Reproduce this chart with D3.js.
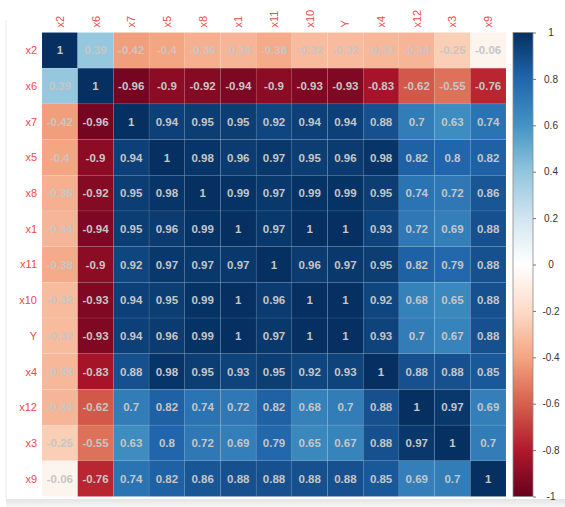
<!DOCTYPE html>
<html>
<head>
<meta charset="utf-8">
<script src="https://cdn.jsdelivr.net/npm/d3@7"></script>
<style>
  html, body { margin: 0; padding: 0; background: #fff; }
  svg { display: block; }
</style>
</head>
<body>
<svg id="chart" width="565" height="507"></svg>
<script>
// Variable order (rows top-to-bottom, columns left-to-right)
const variables = ["x2", "x6", "x7", "x5", "x8", "x1", "x11", "x10", "Y", "x4", "x12", "x3", "x9"];

// Correlation matrix rows, one array per variable
const rowX2  = [1, 0.39, -0.42, -0.4, -0.36, -0.34, -0.38, -0.32, -0.32, -0.33, -0.34, -0.25, -0.06];
const rowX6  = [0.39, 1, -0.96, -0.9, -0.92, -0.94, -0.9, -0.93, -0.93, -0.83, -0.62, -0.55, -0.76];
const rowX7  = [-0.42, -0.96, 1, 0.94, 0.95, 0.95, 0.92, 0.94, 0.94, 0.88, 0.7, 0.63, 0.74];
const rowX5  = [-0.4, -0.9, 0.94, 1, 0.98, 0.96, 0.97, 0.95, 0.96, 0.98, 0.82, 0.8, 0.82];
const rowX8  = [-0.36, -0.92, 0.95, 0.98, 1, 0.99, 0.97, 0.99, 0.99, 0.95, 0.74, 0.72, 0.86];
const rowX1  = [-0.34, -0.94, 0.95, 0.96, 0.99, 1, 0.97, 1, 1, 0.93, 0.72, 0.69, 0.88];
const rowX11 = [-0.38, -0.9, 0.92, 0.97, 0.97, 0.97, 1, 0.96, 0.97, 0.95, 0.82, 0.79, 0.88];
const rowX10 = [-0.32, -0.93, 0.94, 0.95, 0.99, 1, 0.96, 1, 1, 0.92, 0.68, 0.65, 0.88];
const rowY   = [-0.32, -0.93, 0.94, 0.96, 0.99, 1, 0.97, 1, 1, 0.93, 0.7, 0.67, 0.88];
const rowX4  = [-0.33, -0.83, 0.88, 0.98, 0.95, 0.93, 0.95, 0.92, 0.93, 1, 0.88, 0.88, 0.85];
const rowX12 = [-0.34, -0.62, 0.7, 0.82, 0.74, 0.72, 0.82, 0.68, 0.7, 0.88, 1, 0.97, 0.69];
const rowX3  = [-0.25, -0.55, 0.63, 0.8, 0.72, 0.69, 0.79, 0.65, 0.67, 0.88, 0.97, 1, 0.7];
const rowX9  = [-0.06, -0.76, 0.74, 0.82, 0.86, 0.88, 0.88, 0.88, 0.88, 0.85, 0.69, 0.7, 1];
const matrix = [rowX2, rowX6, rowX7, rowX5, rowX8, rowX1, rowX11, rowX10, rowY, rowX4, rowX12, rowX3, rowX9];

// Colour bar tick labels
const legendTicks = [1, 0.8, 0.6, 0.4, 0.2, 0, -0.2, -0.4, -0.6, -0.8, -1];

// Diverging red-blue palette
const paletteStops = ["#67001F", "#B2182B", "#D6604D", "#F4A582", "#FDDBC7", "#FFFFFF",
                      "#D1E5F0", "#92C5DE", "#4393C3", "#2166AC", "#053061"];

// plain hyphen-minus number labels
const fmt = v => String(+v.toFixed(2));

const svg = d3.select("#chart");
const W = 565, H = 507;

// soft frame shading along the left and bottom edges
const defs = svg.append("defs");
const shade = defs.append("linearGradient").attr("id", "shade").attr("x1", 0).attr("y1", 0).attr("x2", 0).attr("y2", 1);
shade.append("stop").attr("offset", "0%").attr("stop-color", "#e4e4e4");
shade.append("stop").attr("offset", "100%").attr("stop-color", "#f6f6f6");
svg.append("rect").attr("x", 6).attr("y", 499).attr("width", W - 6).attr("height", H - 499).attr("fill", "url(#shade)");
svg.append("line").attr("x1", 6).attr("x2", 6).attr("y1", 20).attr("y2", 499)
  .attr("stroke", "#ececec").attr("stroke-width", 1);

const gridLeft = 42, gridTop = 32.5, gridSize = 464;

const x = d3.scaleBand().domain(variables).range([gridLeft, gridLeft + gridSize]);
const y = d3.scaleBand().domain(variables).range([gridTop, gridTop + gridSize]);

const color = d3.scaleLinear()
  .domain(d3.range(paletteStops.length).map(i => -1 + 2 * i / (paletteStops.length - 1)))
  .range(paletteStops)
  .interpolate(d3.interpolateRgb)
  .clamp(true);

const cells = [];
matrix.forEach((row, i) => row.forEach((v, j) => cells.push({ r: variables[i], c: variables[j], v })));

const g = svg.append("g");
g.selectAll("rect.cell").data(cells).join("rect")
  .attr("class", "cell")
  .attr("x", d => x(d.c))
  .attr("y", d => y(d.r))
  .attr("width", x.bandwidth())
  .attr("height", y.bandwidth())
  .attr("fill", d => color(d.v))
  .attr("stroke", "rgba(255,255,255,0.15)")
  .attr("stroke-width", 0.5);

g.selectAll("text.num").data(cells).join("text")
  .attr("class", "num")
  .attr("x", d => x(d.c) + x.bandwidth() / 2)
  .attr("y", d => y(d.r) + y.bandwidth() / 2)
  .attr("dy", "0.36em")
  .attr("text-anchor", "middle")
  .attr("font-family", "Liberation Sans, Arial, sans-serif")
  .attr("font-weight", "bold")
  .attr("font-size", 11.5)
  .attr("fill", "#c6c6c6")
  .text(d => fmt(d.v));

// row labels
svg.append("g").selectAll("text").data(variables).join("text")
  .attr("x", gridLeft - 5)
  .attr("y", d => y(d) + y.bandwidth() / 2)
  .attr("dy", "0.36em")
  .attr("text-anchor", "end")
  .attr("font-family", "Liberation Sans, Arial, sans-serif")
  .attr("font-size", 11)
  .attr("fill", "#f24a4a")
  .text(d => d);

// column labels, rotated
svg.append("g").selectAll("text").data(variables).join("text")
  .attr("transform", d => `translate(${x(d) + x.bandwidth() / 2},${gridTop - 5}) rotate(-90)`)
  .attr("dy", "0.36em")
  .attr("text-anchor", "start")
  .attr("font-family", "Liberation Sans, Arial, sans-serif")
  .attr("font-size", 11)
  .attr("fill", "#f24a4a")
  .text(d => d);

// colour bar
const barX = 513, barW = 20;
const barScale = d3.scaleLinear().domain([1, -1]).range([gridTop, gridTop + gridSize]);
const grad = defs.append("linearGradient").attr("id", "bar").attr("x1", 0).attr("y1", 0).attr("x2", 0).attr("y2", 1);
paletteStops.slice().reverse().forEach((c, i, arr) => {
  grad.append("stop").attr("offset", (100 * i / (arr.length - 1)) + "%").attr("stop-color", c);
});
svg.append("rect")
  .attr("x", barX).attr("y", barScale(1))
  .attr("width", barW).attr("height", barScale(-1) - barScale(1))
  .attr("fill", "url(#bar)")
  .attr("stroke", "#8a8a8a").attr("stroke-width", 0.8);

const legendAxis = d3.axisRight(barScale).tickValues(legendTicks).tickSize(3).tickFormat(fmt);
const ax = svg.append("g").attr("transform", `translate(${barX + barW},0)`).call(legendAxis);
ax.select(".domain").remove();
ax.selectAll(".tick line").attr("stroke", "#777");
ax.selectAll(".tick text")
  .attr("x", 18)
  .attr("text-anchor", "middle")
  .attr("font-family", "Liberation Sans, Arial, sans-serif")
  .attr("font-size", 10)
  .attr("fill", "#333");
</script>
</body>
</html>
